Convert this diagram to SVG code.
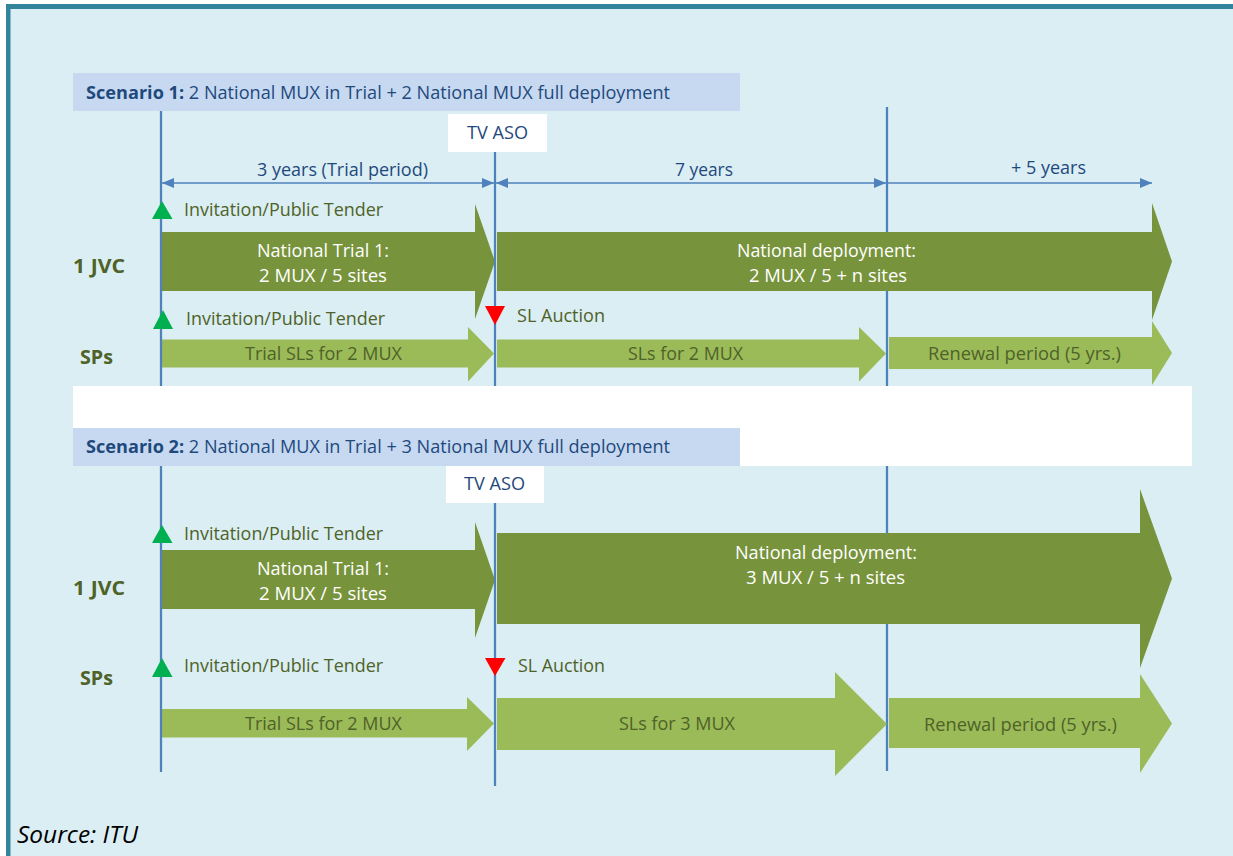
<svg xmlns="http://www.w3.org/2000/svg" width="1233" height="856" viewBox="0 0 1233 856">
  <style>
    text { font-family: "Open Sans", "Liberation Sans", sans-serif; font-size: 18px; }
    .scen { fill: #1F497D; }
    .aso { fill: #1F497D; text-anchor: middle; }
    .dim { fill: #1F497D; text-anchor: middle; }
    .olive { fill: #4F6228; }
    .row { fill: #4F6228; font-weight: 700; font-size: 19px; }
    .onDark { fill: #FFFFFF; text-anchor: middle; }
    .onLight { fill: #4F6228; text-anchor: middle; }
    .source { fill: #000000; font-style: italic; font-size: 23px; }
    .dark { fill: #77933C; }
    .light { fill: #9BBB59; }
    .tl { stroke: #4F81BD; stroke-width: 2.25; fill: none; }
    .dimline { stroke: #4F81BD; stroke-width: 1.5; fill: none; }
    .go { fill: #00B050; }
    .stop { fill: #FF0000; }
    .bar { fill: #C6D9F1; }
  </style>
  <defs>
    <marker id="tip" viewBox="0 0 12 10" markerWidth="12" markerHeight="10" refX="12" refY="5" orient="auto-start-reverse" markerUnits="userSpaceOnUse">
      <path d="M0,0 L12,5 L0,10 z" fill="#4F81BD"/>
    </marker>
  </defs>

  <!-- page background and frame -->
  <rect x="0" y="0" width="1233" height="856" fill="#FFFFFF"/>
  <rect x="6" y="4" width="1227" height="852" fill="#DAEEF3"/>
  <rect x="6" y="4" width="1227" height="5" fill="#31849B"/>
  <rect x="6" y="4" width="4.5" height="852" fill="#31849B"/>

  <!-- separator band between the two scenarios -->
  <rect x="73" y="386" width="1119" height="80" fill="#FFFFFF"/>

  <!-- scenario headers -->
  <g id="scenario1-header">
    <rect class="bar" x="73" y="73" width="667" height="38"/>
    <text class="scen" x="86" y="99" textLength="584" lengthAdjust="spacingAndGlyphs"><tspan font-weight="700">Scenario 1:</tspan> 2 National MUX in Trial + 2 National MUX full deployment</text>
  </g>
  <g id="scenario2-header">
    <rect class="bar" x="73" y="428" width="667" height="38"/>
    <text class="scen" x="86" y="453" textLength="584" lengthAdjust="spacingAndGlyphs"><tspan font-weight="700">Scenario 2:</tspan> 2 National MUX in Trial + 3 National MUX full deployment</text>
  </g>

  <!-- TV analogue switch-off markers -->
  <g id="aso1">
    <rect x="448" y="114" width="99" height="38" fill="#FFFFFF"/>
    <text class="aso" x="497.5" y="139" textLength="61" lengthAdjust="spacingAndGlyphs">TV ASO</text>
  </g>
  <g id="aso2">
    <rect x="446" y="466" width="98" height="37" fill="#FFFFFF"/>
    <text class="aso" x="494.5" y="490" textLength="61" lengthAdjust="spacingAndGlyphs">TV ASO</text>
  </g>

  <!-- timeline lines drawn behind the phase arrows -->
  <g id="timeline-back">
    <line class="tl" x1="887" y1="107" x2="887" y2="386"/>
    <line class="tl" x1="887" y1="466" x2="887" y2="771"/>
  </g>

  <!-- Scenario 1: phase arrows -->
  <g id="s1-jvc-trial">
    <polygon class="dark" points="161,232 475,232 475,204 495,261.5 475,319 475,291 161,291"/>
    <text class="onDark" x="323" y="257" textLength="132" lengthAdjust="spacingAndGlyphs">National Trial 1:</text>
    <text class="onDark" x="323" y="282" textLength="128" lengthAdjust="spacingAndGlyphs">2 MUX / 5 sites</text>
  </g>
  <g id="s1-jvc-deployment">
    <polygon class="dark" points="497,232 1152,232 1152,203 1172,261.5 1152,320 1152,291 497,291"/>
    <text class="onDark" x="826.5" y="257" textLength="179" lengthAdjust="spacingAndGlyphs">National deployment:</text>
    <text class="onDark" x="828" y="282" textLength="158" lengthAdjust="spacingAndGlyphs">2 MUX / 5 + n sites</text>
  </g>
  <g id="s1-sp-trial">
    <polygon class="light" points="161,339.5 468,339.5 468,327 494,353.5 468,381.5 468,367.5 161,367.5"/>
    <text class="onLight" x="323.5" y="360" textLength="157" lengthAdjust="spacingAndGlyphs">Trial SLs for 2 MUX</text>
  </g>
  <g id="s1-sp-licences">
    <polygon class="light" points="497,339.5 859,339.5 859,327 886,353.5 859,381.5 859,367.5 497,367.5"/>
    <text class="onLight" x="685.5" y="360" textLength="115" lengthAdjust="spacingAndGlyphs">SLs for 2 MUX</text>
  </g>
  <g id="s1-sp-renewal">
    <polygon class="light" points="889,337 1152,337 1152,321 1172,353 1152,385 1152,369 889,369"/>
    <text class="onLight" x="1024.5" y="360" textLength="193" lengthAdjust="spacingAndGlyphs">Renewal period (5 yrs.)</text>
  </g>

  <!-- Scenario 2: phase arrows -->
  <g id="s2-jvc-trial">
    <polygon class="dark" points="161,550 475,550 475,522 495,580 475,638 475,609 161,609"/>
    <text class="onDark" x="323" y="575" textLength="132" lengthAdjust="spacingAndGlyphs">National Trial 1:</text>
    <text class="onDark" x="323" y="600" textLength="128" lengthAdjust="spacingAndGlyphs">2 MUX / 5 sites</text>
  </g>
  <g id="s2-jvc-deployment">
    <polygon class="dark" points="497,533 1140,533 1140,489 1172,578.5 1140,668 1140,624 497,624"/>
    <text class="onDark" x="826" y="559" textLength="182" lengthAdjust="spacingAndGlyphs">National deployment:</text>
    <text class="onDark" x="825.5" y="584" textLength="159" lengthAdjust="spacingAndGlyphs">3 MUX / 5 + n sites</text>
  </g>
  <g id="s2-sp-trial">
    <polygon class="light" points="161,709 467,709 467,697 494,723.5 467,751 467,737.5 161,737.5"/>
    <text class="onLight" x="323.5" y="730" textLength="157" lengthAdjust="spacingAndGlyphs">Trial SLs for 2 MUX</text>
  </g>
  <g id="s2-sp-licences">
    <polygon class="light" points="497,698 835,698 835,672 887,724 835,776 835,750 497,750"/>
    <text class="onLight" x="677" y="730" textLength="116" lengthAdjust="spacingAndGlyphs">SLs for 3 MUX</text>
  </g>
  <g id="s2-sp-renewal">
    <polygon class="light" points="889,698 1140,698 1140,674 1172,723.5 1140,773 1140,748 889,748"/>
    <text class="onLight" x="1020.5" y="731" textLength="193" lengthAdjust="spacingAndGlyphs">Renewal period (5 yrs.)</text>
  </g>

  <!-- timeline lines drawn over the phase arrows -->
  <g id="timeline-front">
    <line class="tl" x1="161" y1="111" x2="161" y2="386"/>
    <line class="tl" x1="495" y1="152" x2="495" y2="386"/>
    <line class="tl" x1="161" y1="466" x2="161" y2="772"/>
    <line class="tl" x1="495" y1="503" x2="495" y2="786"/>
  </g>

  <!-- row labels -->
  <g id="row-labels">
    <text class="row" x="73" y="273" textLength="52" lengthAdjust="spacingAndGlyphs">1 JVC</text>
    <text class="row" x="80" y="364" textLength="33" lengthAdjust="spacingAndGlyphs">SPs</text>
    <text class="row" x="73" y="595" textLength="52" lengthAdjust="spacingAndGlyphs">1 JVC</text>
    <text class="row" x="80" y="685" textLength="33" lengthAdjust="spacingAndGlyphs">SPs</text>
  </g>

  <!-- milestones: tenders (green) and auctions (red) -->
  <g id="s1-jvc-tender">
    <polygon class="go" points="162,201 152,219 172.5,219"/>
    <text class="olive" x="184" y="216" textLength="199" lengthAdjust="spacingAndGlyphs">Invitation/Public Tender</text>
  </g>
  <g id="s1-sp-tender">
    <polygon class="go" points="163,310 153,329 173,329"/>
    <text class="olive" x="186" y="325" textLength="199" lengthAdjust="spacingAndGlyphs">Invitation/Public Tender</text>
  </g>
  <g id="s1-sl-auction">
    <polygon class="stop" points="485,306 505,306 495,325"/>
    <text class="olive" x="517" y="322" textLength="88" lengthAdjust="spacingAndGlyphs">SL Auction</text>
  </g>
  <g id="s2-jvc-tender">
    <polygon class="go" points="162,525 152,543 172.5,543"/>
    <text class="olive" x="184" y="540" textLength="199" lengthAdjust="spacingAndGlyphs">Invitation/Public Tender</text>
  </g>
  <g id="s2-sp-tender">
    <polygon class="go" points="162,658 152,677 172.5,677"/>
    <text class="olive" x="184" y="672" textLength="199" lengthAdjust="spacingAndGlyphs">Invitation/Public Tender</text>
  </g>
  <g id="s2-sl-auction">
    <polygon class="stop" points="485,658 505.5,658 495,676"/>
    <text class="olive" x="518" y="672" textLength="87" lengthAdjust="spacingAndGlyphs">SL Auction</text>
  </g>

  <!-- period dimension lines -->
  <g id="connectors">
    <line class="dimline" x1="162" y1="183" x2="494" y2="183" marker-start="url(#tip)" marker-end="url(#tip)"/>
    <line class="dimline" x1="496" y1="183" x2="886" y2="183" marker-start="url(#tip)" marker-end="url(#tip)"/>
    <line class="dimline" x1="888" y1="183" x2="1152" y2="183" marker-end="url(#tip)"/>
  </g>
  <g id="period-labels">
    <text class="dim" x="342.5" y="176" textLength="171" lengthAdjust="spacingAndGlyphs">3 years (Trial period)</text>
    <text class="dim" x="704" y="176" textLength="58" lengthAdjust="spacingAndGlyphs">7 years</text>
    <text class="dim" x="1048.5" y="174" textLength="75" lengthAdjust="spacingAndGlyphs">+ 5 years</text>
  </g>

  <text class="source" x="17" y="843" textLength="121" lengthAdjust="spacingAndGlyphs">Source: ITU</text>
</svg>
